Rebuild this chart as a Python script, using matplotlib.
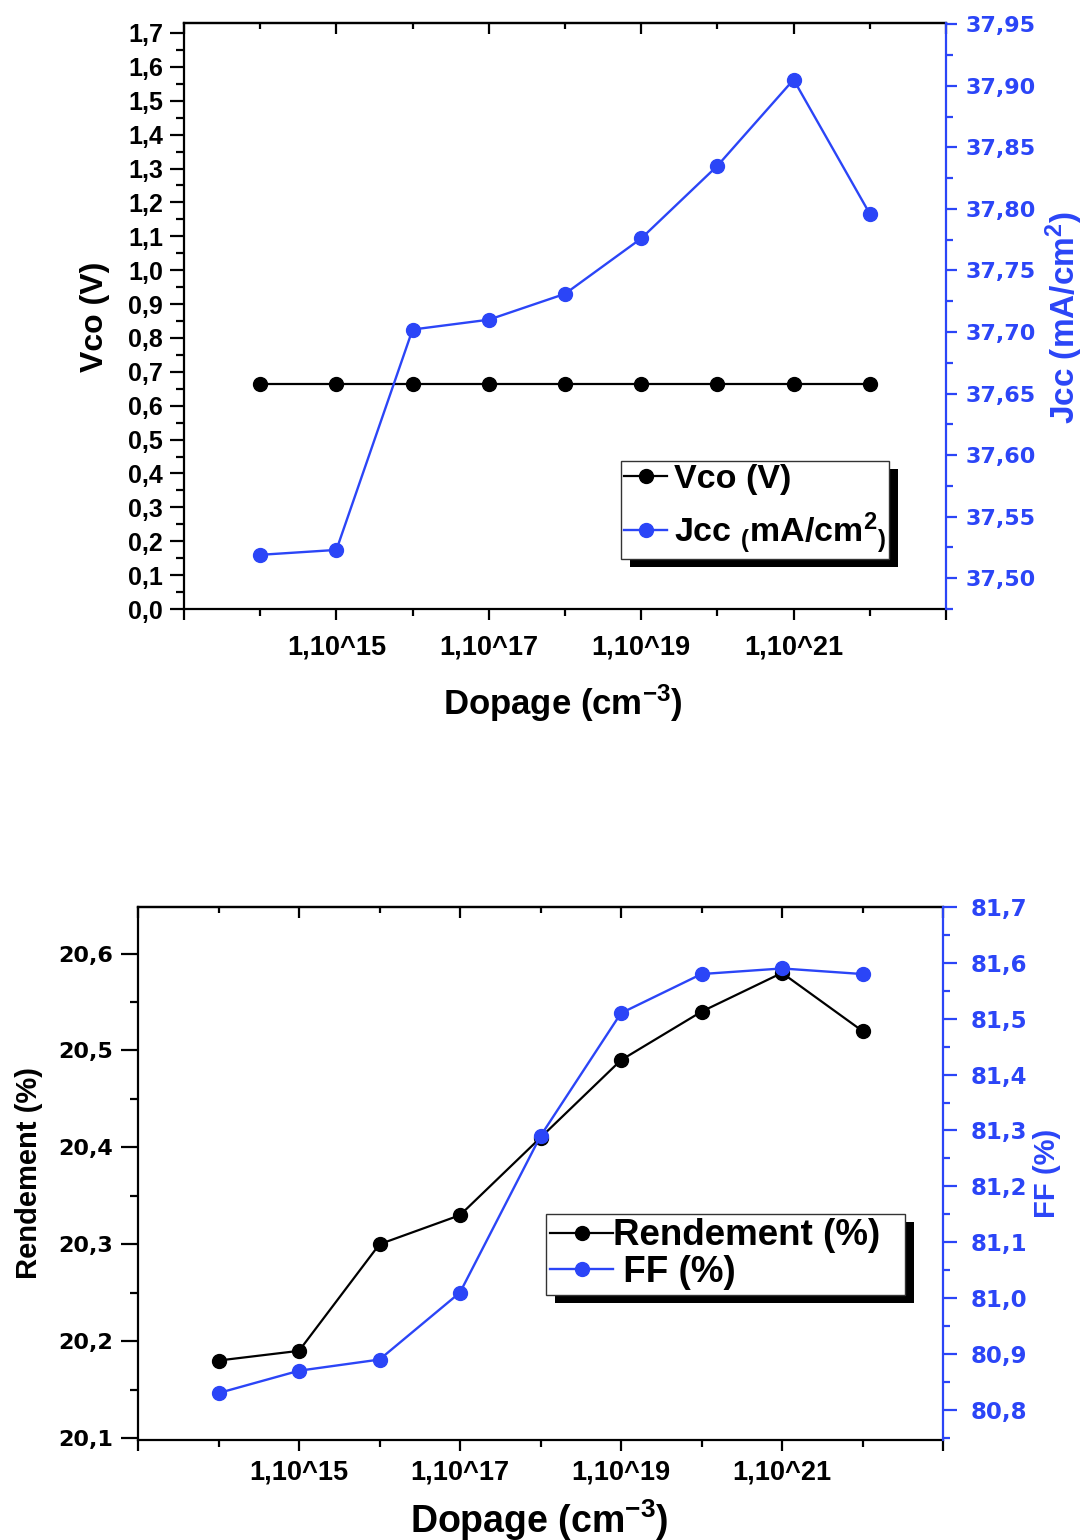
import matplotlib
matplotlib.use("Agg")
import matplotlib.pyplot as plt
from matplotlib import font_manager
from matplotlib.ticker import MultipleLocator, FixedLocator, FuncFormatter
from matplotlib.lines import Line2D
from matplotlib.patches import Rectangle

# ---- data -------------------------------------------------------------
exponents = [14, 15, 16, 17, 18, 19, 20, 21, 22]          # doping = 1e<exp> cm^-3
vco = [0.664, 0.664, 0.664, 0.664, 0.664, 0.664, 0.664, 0.664, 0.664]
jcc = [37.519, 37.523, 37.702, 37.710, 37.731, 37.776, 37.835, 37.905, 37.796]
rendement = [20.18, 20.19, 20.30, 20.33, 20.41, 20.49, 20.54, 20.58, 20.52]
ff = [80.83, 80.87, 80.89, 81.01, 81.29, 81.51, 81.58, 81.59, 81.58]

xtick_major = [13, 15, 17, 19, 21, 23]
xtick_minor = [14, 16, 18, 20, 22]
xtick_labels = ["", "1,10^15", "1,10^17", "1,10^19", "1,10^21", ""]

# ---- style ------------------------------------------------------------
BLUE = "#2b45f7"
plt.rcParams["font.family"] = ["Liberation Sans", "DejaVu Sans"]
plt.rcParams["font.weight"] = "bold"
plt.rcParams["mathtext.fontset"] = "custom"
plt.rcParams["mathtext.rm"] = "Liberation Sans:bold"
plt.rcParams["mathtext.it"] = "Liberation Sans:bold"
plt.rcParams["mathtext.bf"] = "Liberation Sans:bold"
plt.rcParams["mathtext.default"] = "bf"

installed = {f.name for f in font_manager.fontManager.ttflist}
if "Liberation Sans Narrow" in installed:
    XT_FONT = dict(family="Liberation Sans Narrow", size=22, weight="bold")
else:
    XT_FONT = dict(family="Liberation Sans", size=19.5, weight="bold")


def comma(fmt):
    return FuncFormatter(lambda v, p: fmt.format(v).replace(".", ","))


def style_x(ax, pad):
    ax.set_xlim(13, 23)
    ax.xaxis.set_major_locator(FixedLocator(xtick_major))
    ax.xaxis.set_minor_locator(FixedLocator(xtick_minor))
    ax.set_xticklabels(xtick_labels, fontdict=XT_FONT)
    ax.tick_params(axis="x", which="major", direction="out", length=8, width=1.6, pad=pad)
    ax.tick_params(axis="x", which="minor", direction="out", length=5, width=1.6)
    top = ax.secondary_xaxis("top")
    top.xaxis.set_major_locator(FixedLocator(xtick_major))
    top.xaxis.set_minor_locator(FixedLocator(xtick_minor))
    top.tick_params(axis="x", which="major", direction="in", length=8, width=1.6, labeltop=False)
    top.tick_params(axis="x", which="minor", direction="in", length=4, width=1.6)
    top.spines["top"].set_linewidth(1.6)


def style_yticklabels(ax, family, size):
    for lab in ax.get_yticklabels():
        lab.set_fontfamily(family)
        lab.set_fontweight("bold")
        lab.set_fontsize(size)


def add_shadow(fig, ax, leg, dx, dy):
    fig.canvas.draw()
    bb = leg.get_window_extent(fig.canvas.get_renderer())
    bb = bb.transformed(fig.transFigure.inverted())
    W, H = fig.get_size_inches() * fig.dpi
    rect = Rectangle((bb.x0 + dx / W, bb.y0 - dy / H), bb.width, bb.height,
                     transform=fig.transFigure, facecolor="black", edgecolor="none",
                     zorder=4, clip_on=False)
    ax.add_patch(rect)


fig = plt.figure(figsize=(10.88, 15.40), dpi=100)
W, H = 1088, 1540

# ======================= upper panel: Vco / Jcc ========================
ax = fig.add_axes([184 / W, 1 - 609 / H, (946 - 184) / W, (609 - 23) / H])
ax2 = ax.twinx()

ax.plot(exponents, vco, color="black", lw=1.6, marker="o", ms=10)
ax2.plot(exponents, jcc, color=BLUE, lw=1.7, marker="o", ms=10)

ax.set_ylim(0, 1.7295)
ax.yaxis.set_major_locator(MultipleLocator(0.1))
ax.yaxis.set_minor_locator(MultipleLocator(0.05))
ax.yaxis.set_major_formatter(comma("{:.1f}"))
ax.tick_params(axis="y", which="major", direction="out", length=10, width=1.6, pad=5)
ax.tick_params(axis="y", which="minor", direction="out", length=6, width=1.6)
style_yticklabels(ax, "Liberation Sans", 18)
style_x(ax, pad=10)

ax2.set_ylim(37.475, 37.951)
ax2.yaxis.set_major_locator(MultipleLocator(0.05))
ax2.yaxis.set_minor_locator(MultipleLocator(0.025))
ax2.yaxis.set_major_formatter(comma("{:.2f}"))
ax2.tick_params(axis="y", which="major", direction="out", length=8, width=1.6, pad=6,
                colors=BLUE)
ax2.tick_params(axis="y", which="minor", direction="out", length=5, width=1.6, colors=BLUE)
style_yticklabels(ax2, "DejaVu Sans", 16)

for sp in ("left", "bottom", "top"):
    ax.spines[sp].set_linewidth(1.6)
    ax2.spines[sp].set_visible(False)
ax.spines["right"].set_visible(False)
ax2.spines["right"].set_color(BLUE)
ax2.spines["right"].set_linewidth(1.6)

ax.set_ylabel("Vco (V)", fontsize=23, fontweight="bold", ha="center", va="center")
ax.yaxis.set_label_coords(-0.117, 0.498)
ax2.set_ylabel("Jcc (mA/cm$^2$)", fontsize=24, fontweight="bold", color=BLUE,
               ha="center", va="center", rotation=90)
ax2.yaxis.set_label_coords(1.155, 0.498)
ax.set_xlabel("Dopage (cm$^{-3}$)", fontsize=25, fontweight="bold", va="center")
ax.xaxis.set_label_coords(0.497, -0.160)

h1 = Line2D([], [], color="black", lw=1.6, marker="o", ms=10)
h2 = Line2D([], [], color=BLUE, lw=1.7, marker="o", ms=10)
leg1 = ax2.legend([h1, h2], ["Vco (V)", "Jcc $_($mA/cm$^2$$_)$"],
                  loc="upper left", bbox_to_anchor=(0.5735, 0.2526), borderaxespad=0,
                  prop=dict(family="Liberation Sans", weight="bold", size=24.5),
                  handlelength=1.25, handletextpad=0.2, borderpad=0.1, labelspacing=0.45,
                  fancybox=False, framealpha=1, edgecolor="#333333")
leg1.get_frame().set_linewidth(1.0)
leg1.set_zorder(5)

# ==================== lower panel: Rendement / FF ======================
bx = fig.add_axes([138 / W, 1 - 1440 / H, (943 - 138) / W, (1440 - 907) / H])
bx2 = bx.twinx()

bx.plot(exponents, rendement, color="black", lw=1.6, marker="o", ms=10)
bx2.plot(exponents, ff, color=BLUE, lw=1.7, marker="o", ms=10)

bx.set_ylim(20.098, 20.648)
bx.yaxis.set_major_locator(MultipleLocator(0.1))
bx.yaxis.set_minor_locator(MultipleLocator(0.05))
bx.yaxis.set_major_formatter(comma("{:.1f}"))
bx.tick_params(axis="y", which="major", direction="out", length=12, width=1.6, pad=6)
bx.tick_params(axis="y", which="minor", direction="out", length=6, width=1.6)
style_yticklabels(bx, "DejaVu Sans", 16)
style_x(bx, pad=6)

bx2.set_ylim(80.746, 81.7)
bx2.yaxis.set_major_locator(MultipleLocator(0.1))
bx2.yaxis.set_minor_locator(MultipleLocator(0.05))
bx2.yaxis.set_major_formatter(comma("{:.1f}"))
bx2.tick_params(axis="y", which="major", direction="out", length=10, width=1.6, pad=10,
                colors=BLUE)
bx2.tick_params(axis="y", which="minor", direction="out", length=5, width=1.6, colors=BLUE)
style_yticklabels(bx2, "DejaVu Sans", 16.5)

for sp in ("left", "bottom", "top"):
    bx.spines[sp].set_linewidth(1.6)
    bx2.spines[sp].set_visible(False)
bx.spines["right"].set_visible(False)
bx2.spines["right"].set_color(BLUE)
bx2.spines["right"].set_linewidth(1.6)

bx.set_ylabel("Rendement (%)", fontsize=21, fontweight="bold", ha="center", va="center")
bx.yaxis.set_label_coords(-0.135, 0.501)
bx2.set_ylabel("FF (%)", fontsize=21, fontweight="bold", color=BLUE,
               ha="center", va="center", rotation=90)
bx2.yaxis.set_label_coords(1.129, 0.501)
bx.set_xlabel("Dopage (cm$^{-3}$)", fontsize=27, fontweight="bold", va="center")
bx.xaxis.set_label_coords(0.499, -0.150)

g1 = Line2D([], [], color="black", lw=1.6, marker="o", ms=10)
g2 = Line2D([], [], color=BLUE, lw=1.7, marker="o", ms=10)
leg2 = bx2.legend([g1, g2], ["Rendement (%)  ", " FF (%)"],
                  loc="upper left", bbox_to_anchor=(0.5068, 0.4240), borderaxespad=0,
                  prop=dict(family="Liberation Sans", weight="bold", size=26.5),
                  handlelength=1.7, handletextpad=0.0, borderpad=0.12, labelspacing=0.05,
                  fancybox=False, framealpha=1, edgecolor="#333333")
leg2.get_frame().set_linewidth(1.0)
leg2.set_zorder(5)

add_shadow(fig, ax2, leg1, 9, 8)
add_shadow(fig, bx2, leg2, 9, 8)

fig.savefig("out.png", dpi=100)
